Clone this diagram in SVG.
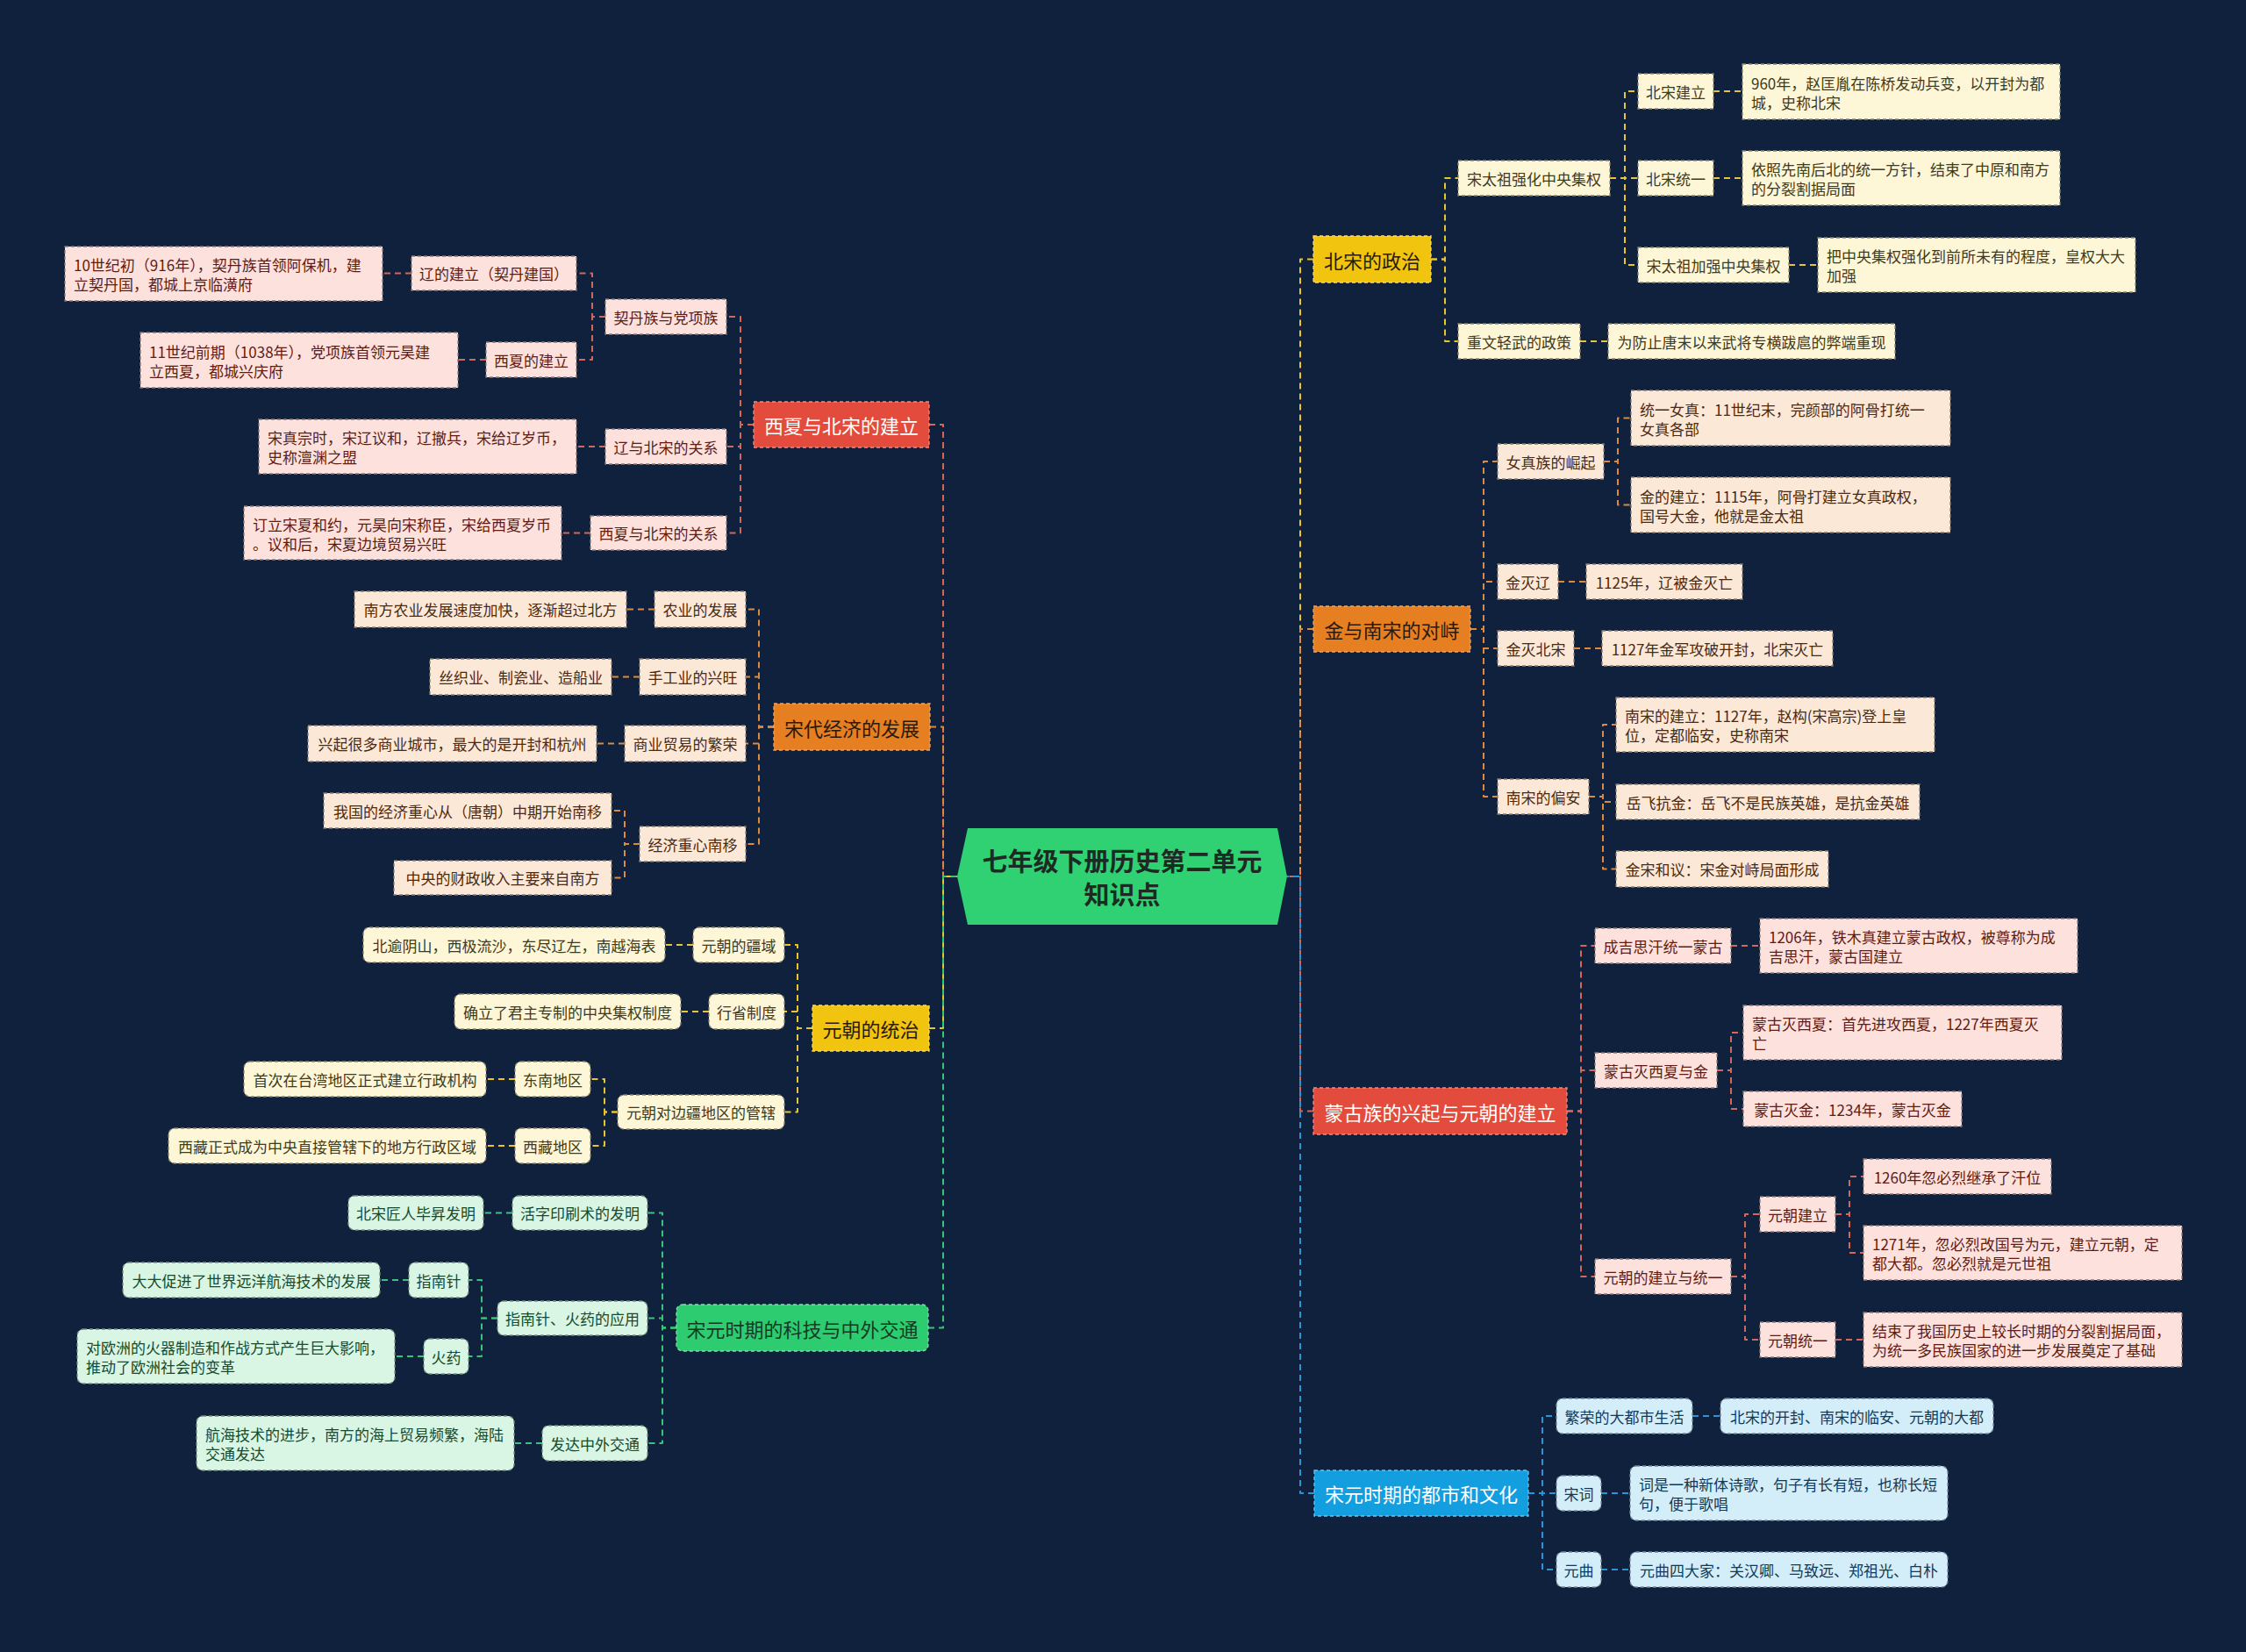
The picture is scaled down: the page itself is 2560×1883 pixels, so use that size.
<svg xmlns="http://www.w3.org/2000/svg" width="2560" height="1883" viewBox="0 0 2560 1883">
<style>
text{font-family:"Noto Sans CJK SC","Noto Sans",sans-serif;}
.t{font-size:17px;dominant-baseline:central;}
.tm{font-size:22px;dominant-baseline:central;text-anchor:middle;}
.c{text-anchor:middle;}
rect{stroke-width:1.3;stroke-dasharray:4 3;}
.r{fill:#fde1dc;stroke:#8a7a78;} .r+text,.tr{fill:#5e1c14;}
.o{fill:#fce8d7;stroke:#8a7d72;} .to{fill:#4a2a12;}
.y{fill:#fdf6d7;stroke:#8a856e;} .ty{fill:#3f3a20;}
.g{fill:#d8f6e3;stroke:#7a8f82;} .tg{fill:#174a2e;}
.b{fill:#d3edf9;stroke:#76899a;} .tb{fill:#113a57;}
.mr{fill:#e34b3c;stroke:#f08a80;} .mo{fill:#e67e22;stroke:#f0a560;} .my{fill:#f1c40f;stroke:#f7da6a;} .mg{fill:#2ecc71;stroke:#7be3a6;} .mb{fill:#139ee0;stroke:#6cc4ee;}
.w{fill:#ffffff;} .d{fill:#2b1a0c;} .dg{fill:#143a24;}
#links path{fill:none;stroke-width:2;stroke-dasharray:7 5;stroke-linejoin:round;}
.lr{stroke:#d4675b;} .lo{stroke:#dd8a3e;} .ly{stroke:#e8c52c;} .lg{stroke:#38c577;} .lb{stroke:#2a94d8;}
</style>
<rect x="0" y="0" width="2560" height="1883" fill="#0f213c" style="stroke:none"/>
<g id="links">
<path class="lr" d="M1059 484 H1075 V999 H1091"/>
<path class="lo" d="M1060 828.5 H1075 V999 H1091"/>
<path class="ly" d="M1059 1172 H1075 V999 H1091"/>
<path class="lg" d="M1058 1513.5 H1075 V999 H1091"/>
<path class="ly" d="M1497 295.5 H1482 V999 H1467"/>
<path class="lo" d="M1497 717 H1482 V999 H1467"/>
<path class="lr" d="M1497 1266.5 H1482 V999 H1467"/>
<path class="lb" d="M1498 1702 H1482 V999 H1467"/>
<path class="lr" d="M859 484 H844 V361 H828"/>
<path class="lr" d="M859 484 H844 V509 H828"/>
<path class="lr" d="M859 484 H844 V607.5 H828"/>
<path class="lr" d="M690 361 H675 V311.5 H657"/>
<path class="lr" d="M690 361 H675 V410 H657"/>
<path class="lr" d="M469 311.5 H436"/>
<path class="lr" d="M554 410 H522"/>
<path class="lr" d="M690 509 H657"/>
<path class="lr" d="M673 607.5 H640"/>
<path class="lo" d="M882 828.5 H865 V694.5 H850"/>
<path class="lo" d="M882 828.5 H865 V771.5 H850"/>
<path class="lo" d="M882 828.5 H865 V847.5 H850"/>
<path class="lo" d="M882 828.5 H865 V962 H850"/>
<path class="lo" d="M746 694.5 H714"/>
<path class="lo" d="M729 771.5 H697"/>
<path class="lo" d="M712 847.5 H680"/>
<path class="lo" d="M729 962 H712 V924 H697"/>
<path class="lo" d="M729 962 H712 V1000.5 H697"/>
<path class="ly" d="M926 1172 H909 V1077 H894"/>
<path class="ly" d="M926 1172 H909 V1153 H894"/>
<path class="ly" d="M926 1172 H909 V1267.5 H894"/>
<path class="ly" d="M790 1077 H758"/>
<path class="ly" d="M808 1153 H776"/>
<path class="ly" d="M704 1267.5 H689 V1230 H673"/>
<path class="ly" d="M704 1267.5 H689 V1306 H673"/>
<path class="ly" d="M587 1230 H554"/>
<path class="ly" d="M587 1306 H554"/>
<path class="lg" d="M771 1513.5 H755 V1382.5 H738"/>
<path class="lg" d="M771 1513.5 H755 V1502.5 H738"/>
<path class="lg" d="M771 1513.5 H755 V1645 H738"/>
<path class="lg" d="M584 1382.5 H551"/>
<path class="lg" d="M567 1502.5 H549 V1459 H534"/>
<path class="lg" d="M567 1502.5 H549 V1546 H534"/>
<path class="lg" d="M466 1459 H433"/>
<path class="lg" d="M483 1546 H450"/>
<path class="lg" d="M618 1645 H586"/>
<path class="ly" d="M1631 295.5 H1647 V203 H1662"/>
<path class="ly" d="M1631 295.5 H1647 V389 H1662"/>
<path class="ly" d="M1835 203 H1852 V104 H1867"/>
<path class="ly" d="M1835 203 H1867"/>
<path class="ly" d="M1835 203 H1852 V302 H1867"/>
<path class="ly" d="M1953 104 H1986"/>
<path class="ly" d="M1953 203 H1986"/>
<path class="ly" d="M2039 302 H2072"/>
<path class="ly" d="M1801 389 H1833"/>
<path class="lo" d="M1676 717 H1691 V526 H1707"/>
<path class="lo" d="M1676 717 H1691 V663 H1707"/>
<path class="lo" d="M1676 717 H1691 V739 H1707"/>
<path class="lo" d="M1676 717 H1691 V908 H1707"/>
<path class="lo" d="M1828 526 H1844 V476.5 H1859"/>
<path class="lo" d="M1828 526 H1844 V575.5 H1859"/>
<path class="lo" d="M1776 663 H1808"/>
<path class="lo" d="M1794 739 H1826"/>
<path class="lo" d="M1811 908 H1827 V826 H1842"/>
<path class="lo" d="M1811 908 H1827 V914 H1842"/>
<path class="lo" d="M1811 908 H1827 V990.5 H1842"/>
<path class="lr" d="M1786 1266.5 H1802 V1078 H1818"/>
<path class="lr" d="M1786 1266.5 H1802 V1220 H1818"/>
<path class="lr" d="M1786 1266.5 H1802 V1455 H1818"/>
<path class="lr" d="M1973 1078 H2006"/>
<path class="lr" d="M1957 1220 H1973 V1177 H1987"/>
<path class="lr" d="M1957 1220 H1973 V1264 H1987"/>
<path class="lr" d="M1973 1455 H1989 V1384 H2006"/>
<path class="lr" d="M1973 1455 H1989 V1527 H2006"/>
<path class="lr" d="M2092 1384 H2108 V1341 H2124"/>
<path class="lr" d="M2092 1384 H2108 V1428 H2124"/>
<path class="lr" d="M2092 1527 H2124"/>
<path class="lb" d="M1742 1702 H1758 V1614 H1774"/>
<path class="lb" d="M1742 1702 H1774"/>
<path class="lb" d="M1742 1702 H1758 V1789 H1774"/>
<path class="lb" d="M1929 1614 H1961"/>
<path class="lb" d="M1825 1702 H1858"/>
<path class="lb" d="M1825 1789 H1858"/>
</g>

<g id="root">
<polygon points="1103,944 1456,944 1467,999 1456,1054 1103,1054 1091,999" fill="#2fd173"/>
<text x="1279" y="980" style="font-size:29px;font-weight:bold;fill:#1d2a24;text-anchor:middle;dominant-baseline:central">七年级下册历史第二单元</text>
<text x="1279" y="1018" style="font-size:29px;font-weight:bold;fill:#1d2a24;text-anchor:middle;dominant-baseline:central">知识点</text>
</g>

<!-- Left: red branch -->
<g id="n-xixia-beisong"><rect class="mr" x="859" y="458" width="200" height="52"/><text class="tm w" x="959" y="484">西夏与北宋的建立</text></g>
<g id="n-qidan-dangxiang"><rect class="r" x="690" y="341" width="138" height="40"/><text class="t c tr" x="759" y="361">契丹族与党项族</text></g>
<g id="n-liao-jianli"><rect class="r" x="469" y="292" width="188" height="39"/><text class="t c tr" x="563" y="311.5">辽的建立（契丹建国）</text></g>
<g id="n-liao-leaf"><rect class="r" x="74" y="281" width="362" height="62"/><text class="t tr"><tspan x="84" y="301">10世纪初（916年），契丹族首领阿保机，建</tspan><tspan x="84" y="323">立契丹国，都城上京临潢府</tspan></text></g>
<g id="n-xixia-jianli"><rect class="r" x="554" y="390" width="103" height="40"/><text class="t c tr" x="605.5" y="410">西夏的建立</text></g>
<g id="n-xixia-leaf"><rect class="r" x="160" y="379" width="362" height="63"/><text class="t tr"><tspan x="170" y="399.5">11世纪前期（1038年），党项族首领元昊建</tspan><tspan x="170" y="421.5">立西夏，都城兴庆府</tspan></text></g>
<g id="n-liao-beisong"><rect class="r" x="690" y="489" width="138" height="40"/><text class="t c tr" x="759" y="509">辽与北宋的关系</text></g>
<g id="n-chanyuan"><rect class="r" x="295" y="478" width="362" height="62"/><text class="t tr"><tspan x="305" y="498">宋真宗时，宋辽议和，辽撤兵，宋给辽岁币，</tspan><tspan x="305" y="520">史称澶渊之盟</tspan></text></g>
<g id="n-xixia-beisong-rel"><rect class="r" x="673" y="588" width="155" height="39"/><text class="t c tr" x="750.5" y="607.5">西夏与北宋的关系</text></g>
<g id="n-songxia"><rect class="r" x="278" y="577" width="362" height="61"/><text class="t tr"><tspan x="288" y="596.5">订立宋夏和约，元昊向宋称臣，宋给西夏岁币</tspan><tspan x="288" y="618.5">。议和后，宋夏边境贸易兴旺</tspan></text></g>

<!-- Left: orange branch -->
<g id="n-songdai-jingji"><rect class="mo" x="882" y="802" width="178" height="53"/><text class="tm d" x="971" y="828.5">宋代经济的发展</text></g>
<g id="n-nongye"><rect class="o" x="746" y="674" width="104" height="41"/><text class="t c to" x="798" y="694.5">农业的发展</text></g>
<g id="n-nongye-leaf"><rect class="o" x="404" y="674" width="310" height="41"/><text class="t c to" x="559" y="694.5">南方农业发展速度加快，逐渐超过北方</text></g>
<g id="n-shougongye"><rect class="o" x="729" y="751" width="121" height="41"/><text class="t c to" x="789.5" y="771.5">手工业的兴旺</text></g>
<g id="n-shougongye-leaf"><rect class="o" x="490" y="751" width="207" height="41"/><text class="t c to" x="593.5" y="771.5">丝织业、制瓷业、造船业</text></g>
<g id="n-shangye"><rect class="o" x="712" y="827" width="138" height="41"/><text class="t c to" x="781" y="847.5">商业贸易的繁荣</text></g>
<g id="n-shangye-leaf"><rect class="o" x="351" y="827" width="329" height="41"/><text class="t c to" x="515.5" y="847.5">兴起很多商业城市，最大的是开封和杭州</text></g>
<g id="n-zhongxin"><rect class="o" x="729" y="942" width="121" height="40"/><text class="t c to" x="789.5" y="962">经济重心南移</text></g>
<g id="n-zhongxin-1"><rect class="o" x="369" y="904" width="328" height="40"/><text class="t c to" x="533" y="924">我国的经济重心从（唐朝）中期开始南移</text></g>
<g id="n-zhongxin-2"><rect class="o" x="449" y="981" width="248" height="39"/><text class="t c to" x="573" y="1000.5">中央的财政收入主要来自南方</text></g>

<!-- Left: yellow branch -->
<g id="n-yuan-tongzhi"><rect class="my" x="926" y="1146" width="133" height="52"/><text class="tm d" x="992.5" y="1172">元朝的统治</text></g>
<g id="n-jiangyu"><rect class="y" rx="7" x="790" y="1057" width="104" height="40"/><text class="t c ty" x="842" y="1077">元朝的疆域</text></g>
<g id="n-jiangyu-leaf"><rect class="y" rx="7" x="414" y="1057" width="344" height="40"/><text class="t c ty" x="586" y="1077">北逾阴山，西极流沙，东尽辽左，南越海表</text></g>
<g id="n-xingsheng"><rect class="y" rx="7" x="808" y="1133" width="86" height="40"/><text class="t c ty" x="851" y="1153">行省制度</text></g>
<g id="n-xingsheng-leaf"><rect class="y" rx="7" x="518" y="1133" width="258" height="40"/><text class="t c ty" x="647" y="1153">确立了君主专制的中央集权制度</text></g>
<g id="n-guanxia"><rect class="y" rx="7" x="704" y="1248" width="190" height="39"/><text class="t c ty" x="799" y="1267.5">元朝对边疆地区的管辖</text></g>
<g id="n-dongnan"><rect class="y" rx="7" x="587" y="1210" width="86" height="40"/><text class="t c ty" x="630" y="1230">东南地区</text></g>
<g id="n-dongnan-leaf"><rect class="y" rx="7" x="278" y="1210" width="276" height="40"/><text class="t c ty" x="416" y="1230">首次在台湾地区正式建立行政机构</text></g>
<g id="n-xizang"><rect class="y" rx="7" x="587" y="1286" width="86" height="40"/><text class="t c ty" x="630" y="1306">西藏地区</text></g>
<g id="n-xizang-leaf"><rect class="y" rx="7" x="192" y="1286" width="362" height="40"/><text class="t c ty" x="373" y="1306">西藏正式成为中央直接管辖下的地方行政区域</text></g>

<!-- Left: green branch -->
<g id="n-keji"><rect class="mg" rx="7" x="771" y="1487" width="287" height="53"/><text class="tm dg" x="914.5" y="1513.5">宋元时期的科技与中外交通</text></g>
<g id="n-huozi"><rect class="g" rx="7" x="584" y="1363" width="154" height="39"/><text class="t c tg" x="661" y="1382.5">活字印刷术的发明</text></g>
<g id="n-huozi-leaf"><rect class="g" rx="7" x="397" y="1363" width="154" height="39"/><text class="t c tg" x="474" y="1382.5">北宋匠人毕昇发明</text></g>
<g id="n-yingyong"><rect class="g" rx="7" x="567" y="1483" width="171" height="39"/><text class="t c tg" x="652.5" y="1502.5">指南针、火药的应用</text></g>
<g id="n-zhinanzhen"><rect class="g" rx="7" x="466" y="1439" width="68" height="40"/><text class="t c tg" x="500" y="1459">指南针</text></g>
<g id="n-zhinanzhen-leaf"><rect class="g" rx="7" x="140" y="1439" width="293" height="40"/><text class="t c tg" x="286.5" y="1459">大大促进了世界远洋航海技术的发展</text></g>
<g id="n-huoyao"><rect class="g" rx="7" x="483" y="1526" width="51" height="40"/><text class="t c tg" x="508.5" y="1546">火药</text></g>
<g id="n-huoyao-leaf"><rect class="g" rx="7" x="88" y="1515" width="362" height="62"/><text class="t tg"><tspan x="98" y="1535">对欧洲的火器制造和作战方式产生巨大影响，</tspan><tspan x="98" y="1557">推动了欧洲社会的变革</tspan></text></g>
<g id="n-jiaotong"><rect class="g" rx="7" x="618" y="1625" width="120" height="40"/><text class="t c tg" x="678" y="1645">发达中外交通</text></g>
<g id="n-jiaotong-leaf"><rect class="g" rx="7" x="224" y="1614" width="362" height="62"/><text class="t tg"><tspan x="234" y="1634">航海技术的进步，南方的海上贸易频繁，海陆</tspan><tspan x="234" y="1656">交通发达</tspan></text></g>

<!-- Right: yellow branch -->
<g id="n-beisong-zhengzhi"><rect class="my" x="1497" y="269" width="134" height="53"/><text class="tm d" x="1564" y="295.5">北宋的政治</text></g>
<g id="n-qianghua"><rect class="y" x="1662" y="183" width="173" height="40"/><text class="t c ty" x="1748.5" y="203">宋太祖强化中央集权</text></g>
<g id="n-beisong-jianli"><rect class="y" x="1867" y="84" width="86" height="40"/><text class="t c ty" x="1910" y="104">北宋建立</text></g>
<g id="n-beisong-jianli-leaf"><rect class="y" x="1986" y="73" width="362" height="63"/><text class="t ty"><tspan x="1996" y="93.5">960年，赵匡胤在陈桥发动兵变，以开封为都</tspan><tspan x="1996" y="115.5">城，史称北宋</tspan></text></g>
<g id="n-beisong-tongyi"><rect class="y" x="1867" y="183" width="86" height="40"/><text class="t c ty" x="1910" y="203">北宋统一</text></g>
<g id="n-beisong-tongyi-leaf"><rect class="y" x="1986" y="172" width="362" height="62"/><text class="t ty"><tspan x="1996" y="192">依照先南后北的统一方针，结束了中原和南方</tspan><tspan x="1996" y="214">的分裂割据局面</tspan></text></g>
<g id="n-jiaqiang"><rect class="y" x="1867" y="282" width="172" height="40"/><text class="t c ty" x="1953" y="302">宋太祖加强中央集权</text></g>
<g id="n-jiaqiang-leaf"><rect class="y" x="2072" y="271" width="362" height="62"/><text class="t ty"><tspan x="2082" y="291">把中央集权强化到前所未有的程度，皇权大大</tspan><tspan x="2082" y="313">加强</tspan></text></g>
<g id="n-zhongwen"><rect class="y" x="1662" y="369" width="139" height="40"/><text class="t c ty" x="1731.5" y="389">重文轻武的政策</text></g>
<g id="n-zhongwen-leaf"><rect class="y" x="1833" y="369" width="327" height="40"/><text class="t c ty" x="1996.5" y="389">为防止唐末以来武将专横跋扈的弊端重现</text></g>

<!-- Right: orange branch -->
<g id="n-jin-nansong"><rect class="mo" x="1497" y="691" width="179" height="52"/><text class="tm d" x="1586.5" y="717">金与南宋的对峙</text></g>
<g id="n-nvzhen"><rect class="o" x="1707" y="506" width="121" height="40"/><text class="t c to" x="1767.5" y="526">女真族的崛起</text></g>
<g id="n-nvzhen-1"><rect class="o" x="1859" y="445" width="364" height="63"/><text class="t to"><tspan x="1869" y="465.5">统一女真：11世纪末，完颜部的阿骨打统一</tspan><tspan x="1869" y="487.5">女真各部</tspan></text></g>
<g id="n-nvzhen-2"><rect class="o" x="1859" y="544" width="364" height="63"/><text class="t to"><tspan x="1869" y="564.5">金的建立：1115年，阿骨打建立女真政权，</tspan><tspan x="1869" y="586.5">国号大金，他就是金太祖</tspan></text></g>
<g id="n-jinmieliao"><rect class="o" x="1707" y="643" width="69" height="40"/><text class="t c to" x="1741.5" y="663">金灭辽</text></g>
<g id="n-jinmieliao-leaf"><rect class="o" x="1808" y="643" width="178" height="40"/><text class="t c to" x="1897" y="663">1125年，辽被金灭亡</text></g>
<g id="n-jinmiebeisong"><rect class="o" x="1707" y="719" width="87" height="40"/><text class="t c to" x="1750.5" y="739">金灭北宋</text></g>
<g id="n-jinmiebeisong-leaf"><rect class="o" x="1826" y="719" width="263" height="40"/><text class="t c to" x="1957.5" y="739">1127年金军攻破开封，北宋灭亡</text></g>
<g id="n-pianan"><rect class="o" x="1707" y="888" width="104" height="40"/><text class="t c to" x="1759" y="908">南宋的偏安</text></g>
<g id="n-pianan-1"><rect class="o" x="1842" y="795" width="363" height="62"/><text class="t to"><tspan x="1852" y="815">南宋的建立：1127年，赵构(宋高宗)登上皇</tspan><tspan x="1852" y="837">位，定都临安，史称南宋</tspan></text></g>
<g id="n-pianan-2"><rect class="o" x="1842" y="894" width="346" height="40"/><text class="t c to" x="2015" y="914">岳飞抗金：岳飞不是民族英雄，是抗金英雄</text></g>
<g id="n-pianan-3"><rect class="o" x="1842" y="970" width="242" height="41"/><text class="t c to" x="1963" y="990.5">金宋和议：宋金对峙局面形成</text></g>

<!-- Right: red branch -->
<g id="n-menggu"><rect class="mr" x="1497" y="1240" width="289" height="53"/><text class="tm w" x="1641.5" y="1266.5">蒙古族的兴起与元朝的建立</text></g>
<g id="n-chengjisihan"><rect class="r" x="1818" y="1058" width="155" height="40"/><text class="t c tr" x="1895.5" y="1078">成吉思汗统一蒙古</text></g>
<g id="n-chengjisihan-leaf"><rect class="r" x="2006" y="1047" width="362" height="62"/><text class="t tr"><tspan x="2016" y="1067">1206年，铁木真建立蒙古政权，被尊称为成</tspan><tspan x="2016" y="1089">吉思汗，蒙古国建立</tspan></text></g>
<g id="n-mie-xixia-jin"><rect class="r" x="1818" y="1200" width="139" height="40"/><text class="t c tr" x="1887.5" y="1220">蒙古灭西夏与金</text></g>
<g id="n-mie-xixia"><rect class="r" x="1987" y="1146" width="363" height="62"/><text class="t tr"><tspan x="1997" y="1166">蒙古灭西夏：首先进攻西夏，1227年西夏灭</tspan><tspan x="1997" y="1188">亡</tspan></text></g>
<g id="n-mie-jin"><rect class="r" x="1987" y="1244" width="249" height="40"/><text class="t c tr" x="2111.5" y="1264">蒙古灭金：1234年，蒙古灭金</text></g>
<g id="n-yuan-jianli-tongyi"><rect class="r" x="1818" y="1435" width="155" height="40"/><text class="t c tr" x="1895.5" y="1455">元朝的建立与统一</text></g>
<g id="n-yuan-jianli"><rect class="r" x="2006" y="1364" width="86" height="40"/><text class="t c tr" x="2049" y="1384">元朝建立</text></g>
<g id="n-yuan-jianli-1"><rect class="r" x="2124" y="1321" width="214" height="40"/><text class="t c tr" x="2231" y="1341">1260年忽必烈继承了汗位</text></g>
<g id="n-yuan-jianli-2"><rect class="r" x="2124" y="1397" width="363" height="62"/><text class="t tr"><tspan x="2134" y="1417">1271年，忽必烈改国号为元，建立元朝，定</tspan><tspan x="2134" y="1439">都大都。忽必烈就是元世祖</tspan></text></g>
<g id="n-yuan-tongyi"><rect class="r" x="2006" y="1507" width="86" height="40"/><text class="t c tr" x="2049" y="1527">元朝统一</text></g>
<g id="n-yuan-tongyi-leaf"><rect class="r" x="2124" y="1496" width="363" height="62"/><text class="t tr"><tspan x="2134" y="1516">结束了我国历史上较长时期的分裂割据局面，</tspan><tspan x="2134" y="1538">为统一多民族国家的进一步发展奠定了基础</tspan></text></g>

<!-- Right: blue branch -->
<g id="n-dushi"><rect class="mb" x="1498" y="1676" width="244" height="52"/><text class="tm w" x="1620" y="1702">宋元时期的都市和文化</text></g>
<g id="n-fanrong"><rect class="b" rx="7" x="1774" y="1594" width="155" height="40"/><text class="t c tb" x="1851.5" y="1614">繁荣的大都市生活</text></g>
<g id="n-fanrong-leaf"><rect class="b" rx="7" x="1961" y="1594" width="311" height="40"/><text class="t c tb" x="2116.5" y="1614">北宋的开封、南宋的临安、元朝的大都</text></g>
<g id="n-songci"><rect class="b" rx="7" x="1774" y="1682" width="51" height="40"/><text class="t c tb" x="1799.5" y="1702">宋词</text></g>
<g id="n-songci-leaf"><rect class="b" rx="7" x="1858" y="1671" width="362" height="62"/><text class="t tb"><tspan x="1868" y="1691">词是一种新体诗歌，句子有长有短，也称长短</tspan><tspan x="1868" y="1713">句，便于歌唱</tspan></text></g>
<g id="n-yuanqu"><rect class="b" rx="7" x="1774" y="1769" width="51" height="40"/><text class="t c tb" x="1799.5" y="1789">元曲</text></g>
<g id="n-yuanqu-leaf"><rect class="b" rx="7" x="1858" y="1769" width="362" height="40"/><text class="t c tb" x="2039" y="1789">元曲四大家：关汉卿、马致远、郑祖光、白朴</text></g>
</svg>
